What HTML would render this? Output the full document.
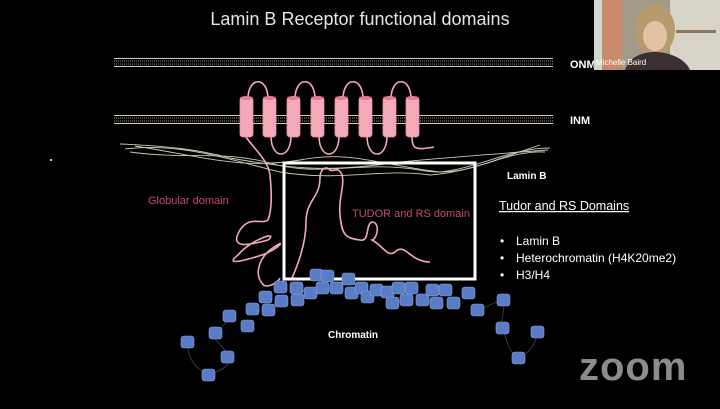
<!DOCTYPE html>
<html><head><style>
body{margin:0;background:#000;width:720px;height:404px;overflow:hidden;font-family:"Liberation Sans",sans-serif}
</style></head><body>
<svg width="720" height="404" viewBox="0 0 720 404" xmlns="http://www.w3.org/2000/svg">
<rect width="720" height="404" fill="#000"/>
<text x="360" y="25" fill="#e6e6e6" font-size="18" text-anchor="middle">Lamin B Receptor functional domains</text>
<g stroke="#d8c8b8" stroke-width="1">
<line x1="114" y1="58.5" x2="553" y2="58.5"/><line x1="114" y1="66.5" x2="553" y2="66.5"/>
<line x1="114" y1="115.5" x2="553" y2="115.5"/><line x1="114" y1="123.5" x2="553" y2="123.5"/>
</g>
<g stroke="#999" stroke-width="1" stroke-dasharray="1 1">
<line x1="114" y1="61" x2="553" y2="61"/><line x1="114" y1="64" x2="553" y2="64"/>
<line x1="114" y1="118" x2="553" y2="118"/><line x1="114" y1="121" x2="553" y2="121"/>
</g>
<g fill="none" stroke="#c8c8b8" stroke-width="0.9">
<path d="M120 144 C170 146 200 150 230 158 C300 170 330 172 400 162 C440 158 480 155 548 150"/>
<path d="M125 149 C180 142 230 160 280 172 C340 182 380 168 430 175 C470 172 500 158 540 145"/>
<path d="M130 152 C190 160 220 150 270 163 C320 178 360 160 420 170 C470 180 500 150 545 152"/>
<path d="M135 146 C200 156 240 170 300 160 C350 150 380 165 440 172 C480 168 510 148 550 148"/>
</g>
<g fill="none" stroke="#f4a9b8" stroke-width="1.6">
<path d="M248 99 C248 76 268 76 268 99"/>
<path d="M295 99 C295 76 315 76 315 99"/>
<path d="M343 99 C343 76 363 76 363 99"/>
<path d="M391 99 C391 76 411 76 411 99"/>
<path d="M271 136 C271 160 291 160 291 136"/>
<path d="M319 136 C319 160 339 160 339 136"/>
<path d="M367 136 C367 160 387 160 387 136"/>
<path d="M412 136 C412 150 416 150 434 147"/>
<path d="M246 137 C255 150 268 160 270 175 C272 195 272 210 268 220 C262 225 250 215 240 230 C228 250 250 245 268 240 C280 230 250 240 238 255 C225 265 240 262 262 255 C278 250 290 235 270 250 C258 260 255 275 262 283 C265 290 278 283 280 278"/>
<path d="M292 278 C300 260 306 240 306 222 C306 200 320 198 320 178 C320 170 325 165 330 170 C333 173 338 165 342 175 C345 185 338 200 340 215 C342 235 345 238 360 240 C370 242 365 225 372 222 C380 222 378 238 372 240 C382 245 388 258 395 252 C405 242 410 262 430 262"/>
</g>
<g fill="#f4a9b8" stroke="#e891a3" stroke-width="0.8">
<rect x="240" y="97" width="13" height="40" rx="3"/><rect x="263" y="97" width="13" height="40" rx="3"/>
<rect x="287" y="97" width="13" height="40" rx="3"/><rect x="311" y="97" width="13" height="40" rx="3"/>
<rect x="335" y="97" width="13" height="40" rx="3"/><rect x="359" y="97" width="13" height="40" rx="3"/>
<rect x="383" y="97" width="13" height="40" rx="3"/><rect x="406" y="97" width="13" height="40" rx="3"/>
</g>
<g fill="#e07d95">
<ellipse cx="246.5" cy="98" rx="6.5" ry="2"/><ellipse cx="269.5" cy="98" rx="6.5" ry="2"/><ellipse cx="293.5" cy="98" rx="6.5" ry="2"/><ellipse cx="317.5" cy="98" rx="6.5" ry="2"/><ellipse cx="341.5" cy="98" rx="6.5" ry="2"/><ellipse cx="365.5" cy="98" rx="6.5" ry="2"/><ellipse cx="389.5" cy="98" rx="6.5" ry="2"/><ellipse cx="412.5" cy="98" rx="6.5" ry="2"/>
</g>
<rect x="284" y="163" width="191" height="116" fill="none" stroke="#fff" stroke-width="3"/>
<g fill="none" stroke="#444" stroke-width="0.8">
<path d="M188 342 C186 360 200 372 209 375 C222 370 232 365 228 357 C225 345 210 340 216 333 C222 326 230 320 230 316"/>
<path d="M478 310 C490 305 500 300 504 300 C505 310 500 320 503 328 C506 340 510 355 519 358 C530 352 535 345 538 332"/>
</g>
<g fill="#5a7cc6" stroke="#8aa4dd" stroke-width="0.6">
<rect x="181" y="336" width="13" height="12" rx="3"/><rect x="202" y="369" width="13" height="12" rx="3"/><rect x="221" y="351" width="13" height="12" rx="3"/><rect x="209" y="327" width="13" height="12" rx="3"/><rect x="223" y="310" width="13" height="12" rx="3"/><rect x="241" y="320" width="13" height="12" rx="3"/><rect x="246" y="303" width="13" height="12" rx="3"/><rect x="259" y="291" width="13" height="12" rx="3"/><rect x="262" y="304" width="13" height="12" rx="3"/><rect x="275" y="295" width="13" height="12" rx="3"/><rect x="274" y="281" width="13" height="12" rx="3"/><rect x="291" y="294" width="13" height="12" rx="3"/><rect x="290" y="282" width="13" height="12" rx="3"/><rect x="304" y="287" width="13" height="12" rx="3"/><rect x="310" y="269" width="13" height="12" rx="3"/><rect x="321" y="270" width="13" height="12" rx="3"/><rect x="316" y="282" width="13" height="12" rx="3"/><rect x="330" y="282" width="13" height="12" rx="3"/><rect x="342" y="273" width="13" height="12" rx="3"/><rect x="345" y="287" width="13" height="12" rx="3"/><rect x="355" y="282" width="13" height="12" rx="3"/><rect x="361" y="291" width="13" height="12" rx="3"/><rect x="370" y="284" width="13" height="12" rx="3"/><rect x="381" y="286" width="13" height="12" rx="3"/><rect x="386" y="297" width="13" height="12" rx="3"/><rect x="392" y="282" width="13" height="12" rx="3"/><rect x="400" y="294" width="13" height="12" rx="3"/><rect x="405" y="282" width="13" height="12" rx="3"/><rect x="416" y="294" width="13" height="12" rx="3"/><rect x="426" y="284" width="13" height="12" rx="3"/><rect x="430" y="297" width="13" height="12" rx="3"/><rect x="439" y="284" width="13" height="12" rx="3"/><rect x="447" y="297" width="13" height="12" rx="3"/><rect x="462" y="287" width="13" height="12" rx="3"/><rect x="471" y="304" width="13" height="12" rx="3"/><rect x="497" y="294" width="13" height="12" rx="3"/><rect x="496" y="322" width="13" height="12" rx="3"/><rect x="512" y="352" width="13" height="12" rx="3"/><rect x="531" y="326" width="13" height="12" rx="3"/>
</g>
<text x="148" y="204" fill="#c0506a" font-size="11">Globular domain</text>
<text x="352" y="217" fill="#c0506a" font-size="11">TUDOR and RS domain</text>
<text x="570" y="68" fill="#fff" font-size="11" font-weight="bold">ONM</text>
<text x="570" y="124" fill="#fff" font-size="11" font-weight="bold">INM</text>
<text x="507" y="179" fill="#fff" font-size="10" font-weight="bold">Lamin B</text>
<text x="328" y="338" fill="#fff" font-size="10" font-weight="bold">Chromatin</text>
<text x="499" y="210" fill="#fff" font-size="12.5" text-decoration="underline">Tudor and RS Domains</text>
<g fill="#fff" font-size="12">
<text x="500" y="245">•</text><text x="516" y="245">Lamin B</text>
<text x="500" y="262">•</text><text x="516" y="262">Heterochromatin (H4K20me2)</text>
<text x="500" y="279">•</text><text x="516" y="279">H3/H4</text>
</g>
<rect x="50" y="159" width="2" height="2" fill="#ccc"/>
<rect x="594" y="0" width="126" height="70" fill="#a49a8a"/>
<rect x="594" y="0" width="28" height="70" fill="#c98a6a"/>
<rect x="594" y="0" width="8" height="70" fill="#cfd8d0"/>
<rect x="670" y="0" width="50" height="70" fill="#d8d4c8"/>
<rect x="676" y="30" width="40" height="3" fill="#8a7a60"/>
<ellipse cx="655" cy="30" rx="20" ry="26" fill="#b89a70"/>
<ellipse cx="655" cy="36" rx="12" ry="15" fill="#e6c2a5"/>
<path d="M625 70 C630 55 645 52 655 52 C668 52 685 58 690 70 Z" fill="#3a3030"/>
<text x="596" y="65" fill="#fff" font-size="8">Michelle Baird</text>
<text x="579" y="380" fill="#8c8c8c" font-size="40" font-weight="bold" letter-spacing="1">zoom</text>
</svg>
</body></html>
